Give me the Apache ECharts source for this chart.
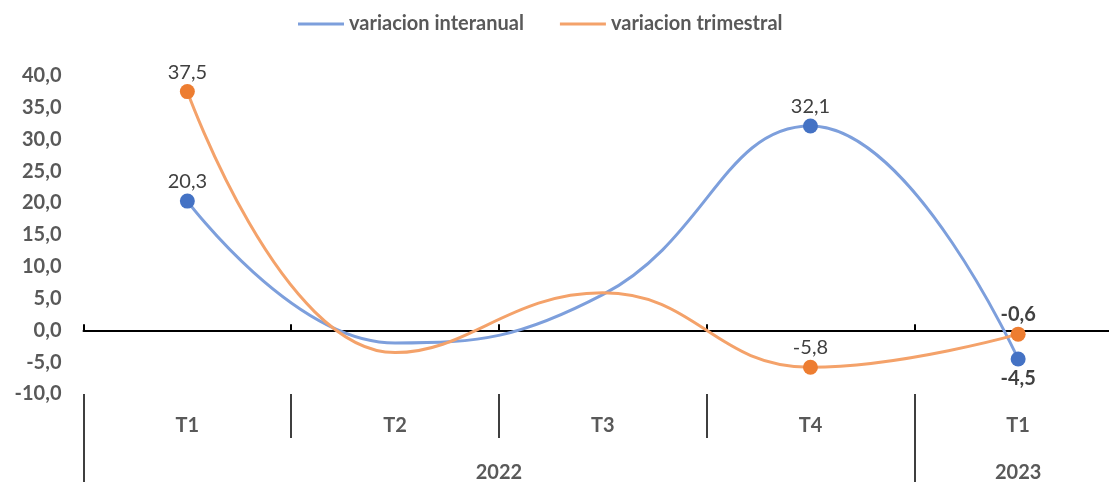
<!DOCTYPE html>
<html>
<head>
<meta charset="utf-8">
<script src="https://cdn.jsdelivr.net/npm/echarts@6/dist/echarts.min.js"></script>
<style>
  html, body { margin: 0; padding: 0; background: #fff; overflow: hidden; }
  #chart { width: 1122px; height: 483px; }
</style>
</head>
<body>
<div id="chart"></div>
<script>
// datos
var trimestres = ['T1', 'T2', 'T3', 'T4', 'T1'];
var anios = ['2022', '2023'];
var trimestresPorAnio = [4, 1];
var interanual = [20.3, -2.0, 5.6, 32.1, -4.5];
var trimestral = [37.5, -3.5, 5.9, -5.8, -0.6];
var conMarca = [true, false, false, true, true];
var posInteranual = ['top', 'top', 'top', 'top', 'bottom'];
var posTrimestral = ['top', 'top', 'top', 'top', 'top'];
var negrita = [false, false, false, false, true];

var fuente = 'Lato';
var gris = '#595959';
var tam = 20;

function coma(v) {
    return v.toFixed(1).replace('.', ',');
}

function puntos(valores, posiciones) {
    return valores.map(function (v, i) {
        return {
            value: v,
            symbol: conMarca[i] ? 'circle' : 'none',
            label: {
                show: conMarca[i],
                position: posiciones[i],
                fontWeight: negrita[i] ? 'bold' : 'normal'
            }
        };
    });
}

// posiciones de separadores y etiquetas de año
var cortes = [0];
var centros = [];
trimestresPorAnio.forEach(function (n) {
    var ini = cortes[cortes.length - 1];
    centros.push(ini + n / 2);
    cortes.push(ini + n);
});

var chart = echarts.init(document.getElementById('chart'));

var option = {
    backgroundColor: '#fff',
    animation: false,
    textStyle: { fontFamily: fuente },
    legend: {
        top: 9,
        left: 293,
        itemWidth: 46,
        itemHeight: 3,
        itemGap: 36,
        icon: 'rect',
        textStyle: { color: gris, fontWeight: 'bold', fontSize: tam, fontFamily: fuente },
        data: [
            { name: 'variacion interanual', itemStyle: { color: '#7d9fdc' } },
            { name: 'variacion trimestral', itemStyle: { color: '#f4a26a' } }
        ]
    },
    grid: { left: 83.5, right: 0, top: 75.7, bottom: 87.5, containLabel: false },
    yAxis: {
        type: 'value',
        min: -10,
        max: 40,
        interval: 5,
        axisLine: { show: false },
        axisTick: { show: false },
        splitLine: { show: false },
        axisLabel: {
            margin: 22,
            color: gris,
            fontWeight: 'bold',
            fontSize: tam,
            fontFamily: fuente,
            formatter: function (v) { return coma(v); }
        }
    },
    xAxis: [
        {
            type: 'category',
            data: trimestres,
            axisLine: { onZero: true, lineStyle: { color: '#000', width: 2 } },
            axisTick: { show: true, inside: true, length: 6, interval: 0, lineStyle: { color: '#000', width: 2 } },
            axisLabel: { show: false }
        },
        {
            type: 'category',
            data: trimestres,
            position: 'bottom',
            axisLine: { show: false, onZero: false },
            axisTick: { show: true, length: 44, interval: 0, lineStyle: { color: '#000', width: 1.5 } },
            axisLabel: {
                margin: 22,
                color: gris,
                fontWeight: 'bold',
                fontSize: tam,
                fontFamily: fuente,
                interval: 0
            }
        },
        {
            type: 'value',
            min: 0,
            max: trimestres.length,
            position: 'bottom',
            offset: 44,
            splitLine: { show: false },
            axisLine: { show: false, onZero: false },
            axisTick: { show: true, length: 44, customValues: cortes, lineStyle: { color: '#000', width: 1.5 } },
            axisLabel: {
                margin: 25,
                color: gris,
                fontWeight: 'bold',
                fontSize: tam,
                fontFamily: fuente,
                customValues: centros,
                formatter: function (v) {
                    var i = centros.indexOf(v);
                    return i >= 0 ? anios[i] : '';
                }
            }
        }
    ],
    series: [
        {
            name: 'variacion interanual',
            type: 'line',
            xAxisIndex: 0,
            smooth: 0.45,
            symbolSize: 15,
            data: puntos(interanual, posInteranual),
            lineStyle: { color: '#7d9fdc', width: 3 },
            itemStyle: { color: '#4472c4' },
            label: { color: '#404040', fontSize: tam, fontFamily: fuente, distance: 2, formatter: function (p) { return coma(p.value); } }
        },
        {
            name: 'variacion trimestral',
            type: 'line',
            xAxisIndex: 0,
            smooth: 0.45,
            symbolSize: 15,
            data: puntos(trimestral, posTrimestral),
            lineStyle: { color: '#f4a26a', width: 3 },
            itemStyle: { color: '#ed7d31' },
            label: { color: '#404040', fontSize: tam, fontFamily: fuente, distance: 2, formatter: function (p) { return coma(p.value); } }
        }
    ]
};

chart.setOption(option);
</script>
</body>
</html>
